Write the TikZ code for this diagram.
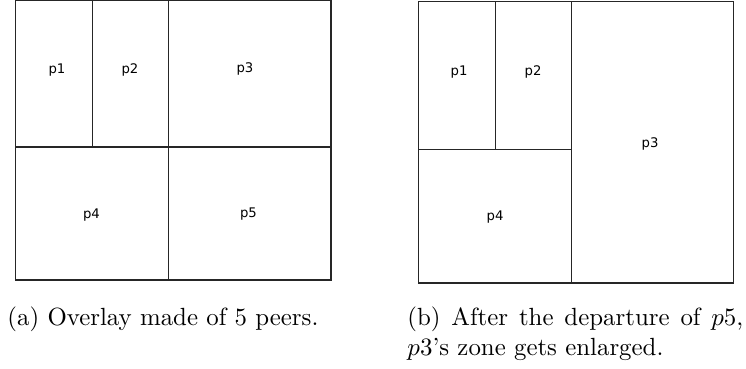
\documentclass[tikz,border=0pt]{standalone}
\usepackage{fontspec}
\newfontfamily\peerfont{DejaVu Sans}
\tikzset{
	zone/.style = {draw = black!85, line width = 0.55pt},
	peer/.style = {font = \peerfont\fontsize{5.8}{6.5}\selectfont, inner sep = 0pt},
	legend/.style = {font = \fontsize{10.9}{13.2}\selectfont, inner sep = 0pt}
}
\begin{document}
\begin{tikzpicture}[x = 0.4385pt, y = -0.4385pt]
	\useasboundingbox (0,0) rectangle (746,368);
	% (a) five peers
	\draw [zone] (15.3,0) rectangle (331,280);
	\draw [zone] (15.3,147) -- (331,147);
	\draw [zone] (168.7,0) -- (168.7,280);
	\draw [zone] (92.5,0) -- (92.5,147);
	\node [peer] (a1) at (57,70) {p1};
	\node [peer] (a2) at (130,70) {p2};
	\node [peer] (a3) at (245,69) {p3};
	\node [peer] (a4) at (91.5,215) {p4};
	\node [peer] (a5) at (248.5,214) {p5};
	\node [legend, anchor = base west] (capa) at (7,325) {(a) Overlay made of 5 peers.};
	% (b) p5 has left
	\draw [zone] (418.3,1.3) rectangle (733.3,283);
	\draw [zone] (418.3,149.3) -- (571.7,149.3);
	\draw [zone] (571.7,1.3) -- (571.7,283);
	\draw [zone] (495.3,1.3) -- (495.3,149.3);
	\node [peer] (b1) at (459,72) {p1};
	\node [peer] (b2) at (533,72) {p2};
	\node [peer] (b3) at (650,144) {p3};
	\node [peer] (b4) at (495,217) {p4};
	\node [legend, anchor = base west, text width = 147.3pt, align = justify] (capb) at (407,325)
		{(b) After the departure of $p5$,\linebreak $p3$'s zone gets enlarged.};
\end{tikzpicture}
\end{document}
